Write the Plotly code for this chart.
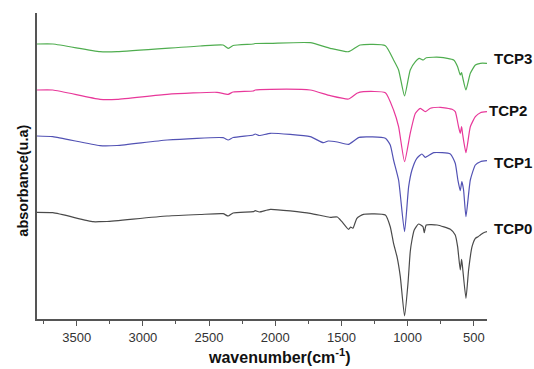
import plotly.graph_objects as go

# ---- data (arbitrary absorbance units, stacked) ----
wn_tcp0 = [3800, 3680, 3377, 3324, 3271, 2817, 2568, 2394, 2356, 2318, 2166, 2151, 2120, 2037,
           1736, 1637, 1584, 1531, 1496, 1446, 1430, 1413, 1383, 1333, 1168, 1131, 1106, 1080,
           1055, 1023, 997, 980, 967, 950, 917, 884, 874, 859, 777, 677, 640, 622, 602, 592,
           585, 559, 539, 513, 488, 468, 450, 425, 400]
abs_tcp0 = [106.7, 106.3, 97.3, 97.3, 97.5, 103, 104.5, 105.3, 103, 106, 107.3, 108.3, 107, 109.7,
            105.7, 103, 101.7, 102, 97.3, 89.7, 92, 90.7, 100.7, 104.7, 104, 92.3, 75.7, 62.3,
            42.3, 3, 35.7, 67.3, 79, 89, 95, 92.3, 86.3, 94, 94, 89.7, 84, 72.3, 49, 59.7,
            52.3, 20.7, 49, 72.3, 80.7, 82.3, 84, 86.3, 87.3]

wn_tcp1 = [3800, 3680, 3324, 3195, 2817, 2394, 2356, 2318, 2166, 2151, 2120, 2037, 1736, 1637,
           1600, 1531, 1446, 1365, 1168, 1131, 1106, 1068, 1023, 992, 967, 930, 892, 866, 803,
           677, 640, 620, 602, 590, 577, 559, 526, 488, 450, 400]
abs_tcp1 = [183, 182.3, 173.3, 173.5, 179, 181.3, 179, 181.5, 184, 185, 183.5, 185.7, 182.3, 176.3,
            178, 177, 174.7, 181.7, 180.7, 174, 159, 139, 87.3, 132.3, 149, 160.7, 165, 161.7, 166.3,
            165, 155.7, 139, 128.3, 137.3, 129, 102.3, 139, 154, 157.3, 158.3]

wn_tcp2 = [3800, 3680, 3324, 3195, 2817, 2440, 2356, 2318, 2166, 2151, 2037, 1736, 1584, 1446,
           1383, 1333, 1168, 1106, 1068, 1023, 980, 941, 904, 866, 828, 752, 664, 640, 615, 602,
           592, 585, 559, 526, 488, 450, 400]
abs_tcp2 = [229, 229, 219.7, 219.7, 224.7, 226.7, 224.7, 227, 228, 229, 229.7, 229, 223.3, 220,
            225.7, 227.3, 226.3, 209, 192.3, 157.3, 185.7, 205.7, 210.7, 207.3, 210.7, 211.7, 209.7,
            207.3, 192.3, 185.7, 192.3, 185.7, 166.3, 192.3, 202.3, 206.3, 207.3]

wn_tcp3 = [3800, 3680, 3324, 3195, 2568, 2394, 2356, 2318, 2166, 2151, 2037, 1736, 1584, 1446,
           1358, 1168, 1106, 1068, 1023, 980, 941, 912, 882, 859, 752, 652, 622, 602, 592, 585,
           559, 526, 488, 450, 400]
abs_tcp3 = [275, 275, 267.3, 267.3, 273, 274, 270.7, 273.5, 275, 275.5, 275.7, 276.3, 270.7, 267.3,
            274, 273.3, 259, 249, 223, 249, 257.3, 260.7, 259, 261.3, 261.7, 259, 252.3, 244, 246.3,
            242.3, 229, 245.7, 254, 255.7, 255.7]

series_names = ["TCP0", "TCP1", "TCP2", "TCP3"]
series_colors = ["#4a4a4a", "#5252b4", "#e8389a", "#4fad4f"]
series_x = [wn_tcp0, wn_tcp1, wn_tcp2, wn_tcp3]
series_y = [abs_tcp0, abs_tcp1, abs_tcp2, abs_tcp3]

# label positions (paper coords)
label_pos = {"TCP3": (1.010, 0.852), "TCP2": (0.999, 0.683), "TCP1": (1.010, 0.512), "TCP0": (1.010, 0.296)}

FONT = "Liberation Sans, Arial, sans-serif"

fig = go.Figure()
for name, col, xs, ys in zip(series_names, series_colors, series_x, series_y):
    fig.add_trace(go.Scatter(x=xs, y=ys, mode="lines", name=name,
                             line=dict(color=col, width=1.2, shape="spline", smoothing=0.5),
                             showlegend=False))

annotations = []
for name in series_names:
    px, py = label_pos[name]
    annotations.append(dict(text="<b>%s</b>" % name, xref="paper", yref="paper", x=px, y=py,
                            xanchor="left", yanchor="middle", showarrow=False,
                            font=dict(family=FONT, size=15, color="#111")))
annotations.append(dict(text="<b>wavenumber(cm<sup>-1</sup>)</b>", xref="paper", yref="paper",
                        x=0.538, y=-0.122, xanchor="center", yanchor="middle", showarrow=False,
                        font=dict(family=FONT, size=16, color="#111")))
annotations.append(dict(text="<b>absorbance(u.a)</b>", xref="paper", yref="paper",
                        x=-0.033, y=0.4526, xanchor="center", yanchor="middle", showarrow=False,
                        textangle=-90, font=dict(family=FONT, size=14.5, color="#111")))

fig.update_layout(
    width=534, height=369,
    margin=dict(l=37, r=47, t=13, b=50),
    paper_bgcolor="white", plot_bgcolor="white",
    font=dict(family=FONT, color="#333"),
    annotations=annotations,
    xaxis=dict(range=[3800, 400], showgrid=False, zeroline=False,
               showline=True, linecolor="#555", linewidth=2,
               ticks="outside", ticklen=5, tickwidth=1.2, tickcolor="#555",
               tickmode="array", tickvals=[3500, 3000, 2500, 2000, 1500, 1000, 500],
               ticktext=["3500", "3000", "2500", "2000", "1500", "1000", "500"],
               tickfont=dict(size=13, color="#333", family=FONT),
               minor=dict(tickmode="array", tickvals=[3750, 3250, 2750, 2250, 1750, 1250, 750],
                          ticks="outside", ticklen=3, tickwidth=1.2, tickcolor="#555")),
    yaxis=dict(range=[0, 306], showgrid=False, zeroline=False, showticklabels=False,
               showline=True, linecolor="#555", linewidth=2, ticks=""),
)

fig.write_html("out.html")
